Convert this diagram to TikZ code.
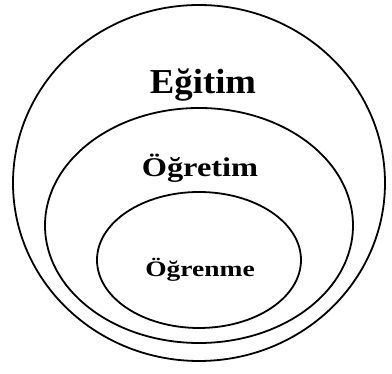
\documentclass[tikz,border=0pt]{standalone}
\usepackage{fontspec}
\setmainfont{Liberation Serif}
\begin{document}
\begin{tikzpicture}[x=1pt, y=1pt, ring/.style={line width=1.8pt}, lbl/.style={anchor=base, font=\bfseries, transform shape}]
                    \useasboundingbox (0,0) rectangle (392,374);
                    \draw[ring] (199,191) ellipse (186 and 178);
                    \draw[ring] (199,148.5) ellipse (154 and 117.5);
                    \draw[ring] (199,114) ellipse (102 and 68);
                    \node[lbl, xscale=1.05, font=\bfseries\fontsize{35}{35}\selectfont] (egitim) at (203,280) {Eğitim};
                    \node[lbl, xscale=1.2, font=\bfseries\fontsize{27}{27}\selectfont] (ogretim) at (200,197) {Öğretim};
                    \node[lbl, xscale=1.25, font=\bfseries\fontsize{22}{22}\selectfont] (ogrenme) at (200,97) {Öğrenme};
                \end{tikzpicture}
\end{document}
